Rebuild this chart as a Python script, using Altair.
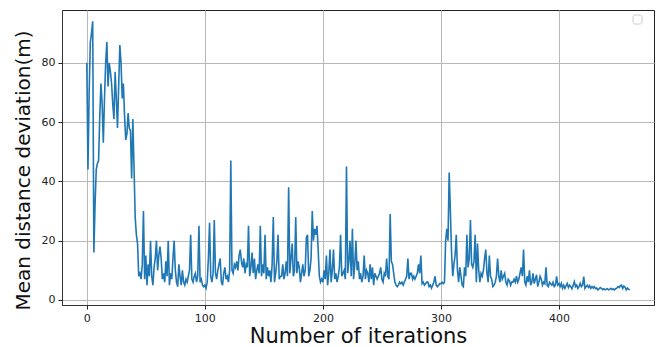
import altair as alt
import pandas as pd

# Mean distance deviation per iteration, in phases
seg_a = [80, 44, 70, 87, 90, 94, 16, 32, 44, 46,
         47, 62, 73, 66, 53, 68, 80, 87, 72, 80,
         77, 73, 66, 61, 77, 68, 58, 72, 86, 80,
         68, 73, 62, 54, 56, 63, 58, 57, 41, 61,
         45, 28, 22, 19, 8]
seg_b = [9, 7, 12, 30, 7, 15, 5, 12, 8, 20,
         8, 5, 11, 14, 20, 10, 15, 18, 14, 7,
         9, 6, 13, 8, 20, 5, 9, 7, 14, 20,
         10, 6, 4.5, 12, 8, 5, 10, 6, 5, 7,
         6, 8, 10, 22, 7, 6, 8, 9, 6, 8,
         25, 6, 7, 5, 4.5, 5, 4, 6, 14, 26,
         8, 6, 9, 27, 9, 7, 10, 12, 14, 6,
         5, 9, 11, 7, 8, 6, 10, 47, 10, 9,
         12, 11, 13, 10, 15, 17, 13, 11, 14, 9,
         12, 11, 25, 8, 11, 16, 9, 14, 7, 10,
         12, 9, 25, 8, 12, 9, 22, 7, 11, 8,
         10, 6, 12, 28, 6, 9, 13, 22, 7, 8, 8]
seg_c = [12, 7, 9, 13, 8, 38, 9, 14, 19, 8,
         10, 28, 9, 13, 11, 6, 9, 12, 8, 10,
         21, 22, 8, 10, 14, 30, 20, 24, 22, 25,
         17, 8, 6, 7, 6, 10, 7, 15, 5, 9,
         17, 6, 10, 17, 7, 9, 6, 8, 11, 22,
         8, 9, 10, 7, 45, 9, 13, 20, 8, 24,
         7, 12, 20, 10, 13, 7, 9, 6, 8, 15,
         7, 10, 9, 6, 12, 7, 11, 5, 9, 8]
seg_d = [7, 8, 9, 11, 7, 6, 9, 8, 14, 8,
         7, 29, 13, 12, 9, 6, 5, 4.5, 5, 6,
         5.5, 6, 5, 6, 7, 8, 14, 7, 9, 9,
         7, 8, 7, 8, 9, 12, 9, 15, 5.5, 6,
         5, 5.5, 6, 6, 4.5, 5, 4, 5, 6, 8,
         5, 4.5, 5, 5.5, 5.5, 6, 5.5, 6, 20, 24,
         20, 43, 30, 16, 8, 12, 15, 22, 10, 6,
         11, 8, 5, 4.5, 11, 8, 22, 11, 14, 27,
         12, 11, 13, 22, 6]
seg_e = [19, 10, 6, 9, 8, 10, 14, 17, 9, 6,
         15, 8, 7, 4.5, 5, 6, 8, 14, 8, 6,
         10, 7, 8, 9, 6, 5, 7, 6.5, 5, 6,
         6, 7, 6, 8, 6, 7, 9, 11, 8, 17,
         6, 5, 8, 6, 10, 5, 6, 9, 5.5, 7,
         8.5, 4.5, 6, 8, 7, 5, 6, 5.5, 11, 5,
         4.5, 6, 5.5, 5, 6, 4.5, 5, 8, 5, 5.5]
seg_f = [4.5, 5.6, 4, 5, 3.9, 4.8, 5.6, 4.2, 5, 4.5,
         3.8, 5, 6.2, 4.5, 5, 3.9, 4.5, 5.6, 4.5, 5,
         7.9, 3.9, 4.5, 5, 4.2, 4.8, 3.9, 4.5, 4, 4.5,
         3.8, 4, 3.4, 3.8, 4.2, 3.9, 3.5, 3.8, 3.4, 3.6,
         3.8, 3.4, 3.6, 3.9, 3.5, 3.7, 3.4, 3.8, 4, 4.5,
         4.2, 4.8, 5, 3.9, 4.7, 4.3, 3.4, 4, 3.6, 3.4]

x_ticks = [0, 100, 200, 300, 400]
y_ticks = [0, 20, 40, 60, 80]

values = seg_a + seg_b + seg_c + seg_d + seg_e + seg_f
df = pd.DataFrame({"iteration": list(range(len(values))), "deviation": values})

FONT = "DejaVu Sans"

line = alt.Chart(df).mark_line(color="#1f77b4", strokeWidth=1.6, clip=True).encode(
    x=alt.X("iteration:Q",
            scale=alt.Scale(domain=[-21, 480.5], nice=False, zero=False),
            axis=alt.Axis(values=x_ticks, title="Number of iterations",
                          titleFontSize=21, titleFontWeight="normal", titleColor="#111",
                          titleY=37, titleBaseline="alphabetic",
                          labelFontSize=11, labelColor="#222", labelPadding=3,
                          tickSize=4, tickColor="#222", domainColor="#333",
                          gridColor="#b8b8b8", gridWidth=1)),
    y=alt.Y("deviation:Q",
            scale=alt.Scale(domain=[-1.7, 97.8], nice=False, zero=False),
            axis=alt.Axis(values=y_ticks, title="Mean distance deviation(m)",
                          titleFontSize=20, titleFontWeight="normal", titleColor="#111",
                          titleAngle=270, titleX=-33, titleY=160,
                          titleAlign="center", titleBaseline="alphabetic",
                          labelFontSize=11, labelColor="#222", labelPadding=3,
                          tickSize=4, tickColor="#222", domainColor="#333",
                          gridColor="#b8b8b8", gridWidth=1)),
)

legend_box = alt.Chart(pd.DataFrame({"k": [0]})).mark_rect(
    fill="white", stroke="#cccccc", strokeWidth=1, cornerRadius=2
).encode(x=alt.value(571), x2=alt.value(580), y=alt.value(5), y2=alt.value(14))

chart = alt.layer(line, legend_box).properties(
    width=592, height=295,
    autosize=alt.AutoSizeParams(type="none"),
    padding={"left": 62, "top": 10, "right": 2, "bottom": 42},
).configure(font=FONT).configure_view(stroke="#222", strokeWidth=1)

chart.save("out.html", embed_options={"renderer": "svg", "actions": False})
